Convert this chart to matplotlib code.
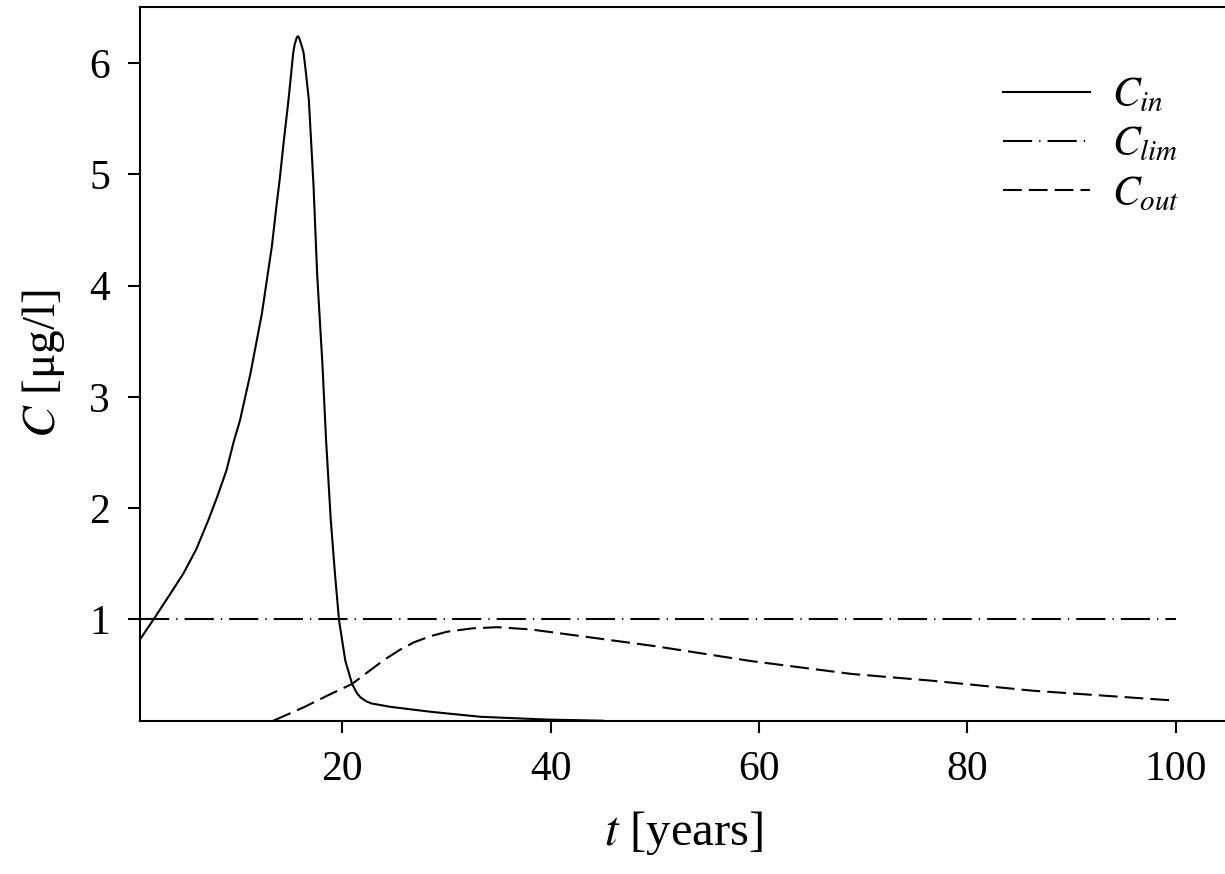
import numpy as np
import matplotlib
matplotlib.use('Agg')
import matplotlib.pyplot as plt

plt.rcParams['font.family'] = ['Liberation Serif', 'DejaVu Serif']
plt.rcParams['mathtext.fontset'] = 'stix'

# C_in : inflow concentration
t_in = [0.6, 1.9, 3.3, 4.75, 6.0, 7.15, 8.0, 8.9, 9.6, 10.2, 11.2, 12.3,
        13.25, 13.7, 14.0, 14.4, 14.85, 15.1, 15.3, 15.45, 15.65, 15.75,
        15.85, 16.1, 16.3, 16.5, 16.8, 17.25, 17.6, 18.1, 18.45, 18.9, 19.3,
        19.7, 20.3, 20.95, 21.4, 21.75, 22.3, 22.8, 24.6, 28.5, 33.3, 39.7,
        45.0]
c_in = [0.82, 1.0, 1.2, 1.41, 1.63, 1.89, 2.1, 2.34, 2.6, 2.79, 3.21, 3.75,
        4.35, 4.72, 4.95, 5.3, 5.67, 5.9, 6.09, 6.17, 6.23, 6.24,
        6.23, 6.16, 6.09, 5.93, 5.67, 4.9, 4.1, 3.3, 2.62, 1.9, 1.42,
        0.99, 0.63, 0.42, 0.34, 0.30, 0.265, 0.245, 0.215, 0.17, 0.125, 0.10,
        0.09]

# C_lim : limit value
t_lim = [0.6, 100]
c_lim = [1.0, 1.0]

# C_out : outflow concentration
t_out = [13.4, 16.3, 18.9, 20.95, 22.5, 24.0, 25.5, 26.9, 28.5, 30.1, 32.5,
         34.9, 38.1, 42.9, 50.0, 59.3, 68.9, 76.5, 86.2, 100.0]
c_out = [0.09, 0.21, 0.33, 0.42, 0.53, 0.635, 0.725, 0.795, 0.85, 0.89, 0.92,
         0.93, 0.91, 0.85, 0.76, 0.625, 0.51, 0.45, 0.36, 0.27]

fig = plt.figure(figsize=(12.25, 8.74), dpi=100)
axe = fig.add_axes([140/1225, 1-720.7/874, 1088/1225, (720.7-7.3)/874])

axe.plot(t_in, c_in, color='k', lw=1.5, ls='-', label='$C_{in}$')
axe.plot(t_lim, c_lim, color='k', lw=1.5, ls=(0, (14, 3.4, 0.6, 3.4)), label='$C_{lim}$')
axe.plot(t_out, c_out, color='k', lw=1.5, ls=(0, (9, 3.4)), label='$C_{out}$')

axe.set_xlim(0.6, 105)
axe.set_ylim(0.09, 6.5)
axe.set_xticks([20, 40, 60, 80, 100])
axe.set_yticks([1, 2, 3, 4, 5, 6])
for s in axe.spines.values():
    s.set_linewidth(1.5)
axe.tick_params(direction='out', length=8.5, width=1.5, labelsize=30, pad=13)

axe.set_xlabel('$t$ [years]', fontsize=35, labelpad=14)
axe.set_ylabel('$C$ [μg/l]', fontsize=34, labelpad=16)

axe.legend(loc='upper right', bbox_to_anchor=(0.99, 0.955), frameon=False,
           fontsize=30, handlelength=2.1, handletextpad=0.53, labelspacing=0.25)

fig.savefig('out.png', dpi=100)
